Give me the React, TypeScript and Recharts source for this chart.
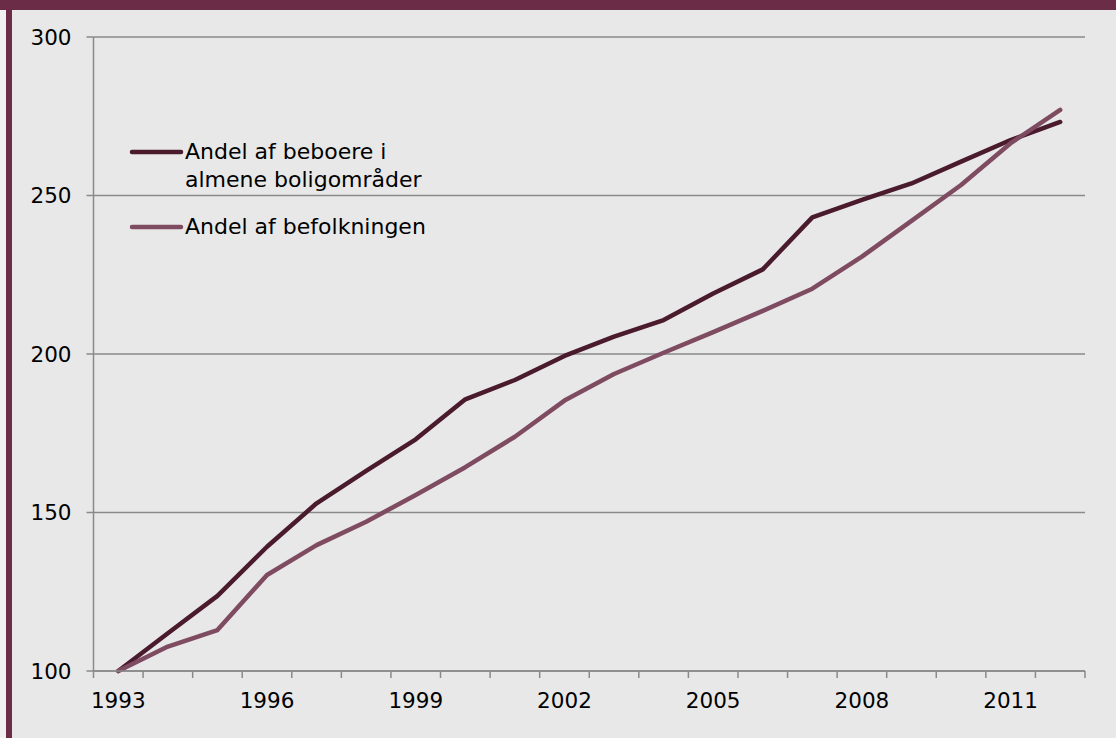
import React from 'react';
import { LineChart, Line, XAxis, YAxis, CartesianGrid } from 'recharts';

const years = [
  '1993', '1994', '1995', '1996', '1997', '1998', '1999', '2000', '2001', '2002',
  '2003', '2004', '2005', '2006', '2007', '2008', '2009', '2010', '2011', '2012',
];
const beboere = [
  100, 111.9, 123.7, 139.2, 152.9, 163.1, 173.1, 185.7, 191.8, 199.4,
  205.5, 210.7, 219.1, 226.7, 243.1, 248.6, 253.8, 260.7, 267.5, 273.2,
];
const befolkning = [
  100, 107.7, 112.9, 130.3, 139.7, 147.1, 155.5, 164.3, 173.9, 185.3,
  193.7, 200.4, 206.9, 213.6, 220.6, 230.7, 242.0, 253.3, 266.5, 277.0,
];
const yTicks = [100, 150, 200, 250, 300];
const labelYears = ['1993', '1996', '1999', '2002', '2005', '2008', '2011'];

const seriesNames = {
  beboere: 'Andel af beboere i almene boligområder',
  befolkning: 'Andel af befolkningen',
};

const data = years.map((year, i) => ({
  year,
  beboere: beboere[i],
  befolkning: befolkning[i],
}));

const W = 1116;
const H = 738;
const MARGIN = { top: 37, right: 31, left: 0, bottom: 17 };
const Y_AXIS_W = 93.5;
const X_AXIS_H = 50;
const PLOT_BOTTOM = H - MARGIN.bottom - X_AXIS_H;
const BAND = (W - MARGIN.left - MARGIN.right - Y_AXIS_W) / years.length;

const FONT = '"DejaVu Sans", Verdana, sans-serif';
const AXIS_GREY = '#8a8a8a';
const DARK = '#4a1a2d';
const ROSE = '#7e4b60';

const legendItems = [
  { name: seriesNames.beboere, color: DARK },
  { name: seriesNames.befolkning, color: ROSE },
];

// Excel style: tick marks sit between categories, labels every 3rd year
const XTick = (props: any) => {
  const { x, payload, index } = props;
  const left = x - BAND / 2;
  return (
    <g>
      <line x1={left} x2={left} y1={PLOT_BOTTOM} y2={PLOT_BOTTOM + 7} stroke={AXIS_GREY} strokeWidth={1.5} />
      {index === years.length - 1 && (
        <line x1={x + BAND / 2} x2={x + BAND / 2} y1={PLOT_BOTTOM} y2={PLOT_BOTTOM + 7} stroke={AXIS_GREY} strokeWidth={1.5} />
      )}
      {labelYears.includes(payload.value) && (
        <text x={x} y={PLOT_BOTTOM + 37} textAnchor="middle" fill="#000" fontSize={21.5} fontFamily={FONT}>
          {payload.value}
        </text>
      )}
    </g>
  );
};

const LegendBox = () => (
  <div
    style={{
      position: 'absolute', left: 129, top: 138,
      fontFamily: FONT, fontSize: 22, lineHeight: '28px', color: '#000',
    }}
  >
    {legendItems.map((it, i) => (
      <div key={i} style={{ display: 'flex', alignItems: 'flex-start', marginBottom: 19 }}>
        <svg width={56} height={28} style={{ flex: 'none' }}>
          <line x1={3} x2={52} y1={14} y2={14} stroke={it.color} strokeWidth={4.5} strokeLinecap="round" />
        </svg>
        <span style={{ width: 250 }}>{it.name}</span>
      </div>
    ))}
  </div>
);

export default function App() {
  return (
    <div style={{ position: 'fixed', left: 0, top: 0, width: W, height: H, background: '#e8e8e8', overflow: 'hidden' }}>
      <div style={{ position: 'absolute', left: 0, top: 0, width: 6, height: H, background: '#f0f0f0' }} />
      <div style={{ position: 'absolute', left: 6, top: 0, width: 6, height: H, background: '#6b2c47' }} />
      <div style={{ position: 'absolute', left: 0, top: 0, width: W, height: 10, background: '#6b2c47' }} />
      <div style={{ position: 'absolute', left: 0, top: 0 }}>
        <LineChart width={W} height={H} data={data} margin={MARGIN}>
          <CartesianGrid horizontal vertical={false} stroke={AXIS_GREY} strokeWidth={1.5} />
          <XAxis
            dataKey="year"
            scale="band"
            interval={0}
            height={X_AXIS_H}
            tickLine={false}
            axisLine={{ stroke: AXIS_GREY, strokeWidth: 1.5 }}
            tick={<XTick />}
          />
          <YAxis
            domain={[100, 300]}
            ticks={yTicks}
            width={Y_AXIS_W}
            tickSize={7}
            tickMargin={15}
            axisLine={{ stroke: AXIS_GREY, strokeWidth: 1.5 }}
            tickLine={{ stroke: AXIS_GREY, strokeWidth: 1.5 }}
            tick={{ fill: '#000', fontSize: 21.5, fontFamily: FONT }}
          />
          <Line
            dataKey="beboere"
            name={seriesNames.beboere}
            stroke={DARK}
            strokeWidth={4.5}
            strokeLinecap="round"
            strokeLinejoin="round"
            dot={false}
            activeDot={false}
            isAnimationActive={false}
          />
          <Line
            dataKey="befolkning"
            name={seriesNames.befolkning}
            stroke={ROSE}
            strokeWidth={4.5}
            strokeLinecap="round"
            strokeLinejoin="round"
            dot={false}
            activeDot={false}
            isAnimationActive={false}
          />
        </LineChart>
      </div>
      <LegendBox />
    </div>
  );
}
